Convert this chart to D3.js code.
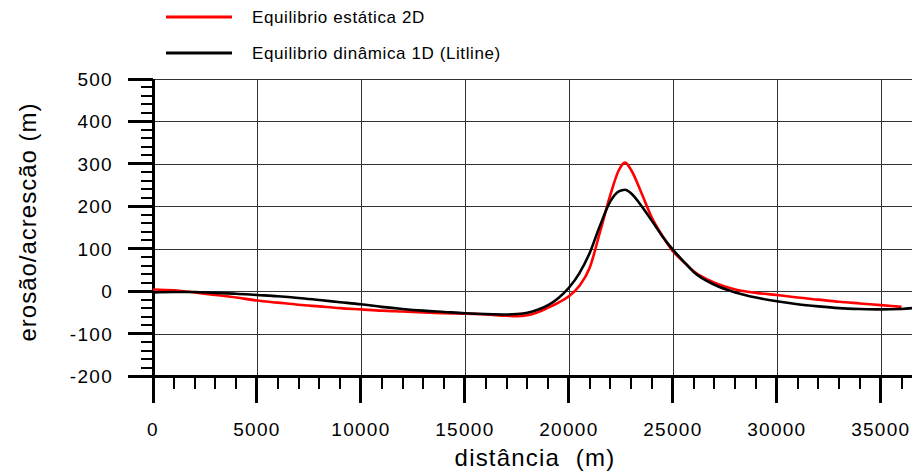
<!DOCTYPE html>
<html><head><meta charset="utf-8">
<script src="https://cdn.jsdelivr.net/npm/d3@7"></script>
<style>
html,body{margin:0;padding:0;background:#fff;}
svg{display:block;}
text{font-family:"Liberation Sans",Arial,sans-serif;fill:#000;white-space:pre;}
</style></head>
<body>
<svg id="chart" width="917" height="475"></svg>
<script>
// ---- data ----
const redDist = [0,1000,2000,3000,4000,5000,6000,7000,8000,9000,10000,11000,12000,13000,14000,15000,16000,17000,17500,18000,18500,19000,19500,20000,20500,21000,21500,22000,22400,22700,23000,23500,24000,24500,25000,25500,26000,27000,28000,29000,30000,31000,32000,33000,34000,35000,36000];
const redVal  = [4,2,-3,-9,-15,-22,-27,-32,-36,-40,-43,-46,-48,-50,-52,-53,-55,-58,-59,-57,-50,-39,-27,-12,12,55,140,228,285,303,285,230,172,130,94,70,47,20,4,-4,-9,-15,-20,-25,-29,-33,-37];
const blackDist = [0,1000,2000,3000,4000,5000,6000,7000,8000,9000,10000,11000,12000,13000,14000,15000,16000,17000,17500,18000,18500,19000,19500,20000,20500,21000,21500,22000,22400,22700,23000,23500,24000,24500,25000,25500,26000,27000,28000,29000,30000,31000,32000,33000,34000,35000,36000,36500];
const blackVal  = [-3,-2,-2,-4,-6,-9,-12,-16,-21,-26,-31,-37,-42,-46,-49,-52,-54,-55,-54,-51,-44,-33,-16,8,42,90,155,212,235,239,230,200,165,129,98,71,45,15,-3,-15,-24,-31,-36,-40,-42,-43,-42,-40];
const seriesNames = ["Equilibrio estática 2D","Equilibrio dinâmica 1D (Litline)"];
const seriesColors = ["#ff0000","#000000"];
const xTicks = [0,5000,10000,15000,20000,25000,30000,35000];
const yTicks = [-200,-100,0,100,200,300,400,500];
const xLabel = "distância  (m)";
const yLabel = "erosão/acrescão (m)";

// ---- layout ----
const svg = d3.select("#chart");
const x = d3.scaleLinear().domain([0,36500]).range([153,912]);
const y = d3.scaleLinear().domain([-200,500]).range([376,79]);

// grid
const grid = svg.append("g").attr("stroke","#333").attr("stroke-width",1).attr("shape-rendering","crispEdges");
grid.selectAll(".h").data(yTicks.filter(v=>v>-200)).enter().append("line")
  .attr("x1",x(0)).attr("x2",x(36500)).attr("y1",d=>Math.round(y(d))+0.5).attr("y2",d=>Math.round(y(d))+0.5);
grid.selectAll(".v").data(xTicks.filter(v=>v>0)).enter().append("line")
  .attr("y1",y(500)).attr("y2",y(-200)).attr("x1",d=>Math.round(x(d))+0.5).attr("x2",d=>Math.round(x(d))+0.5);

// minor ticks
const xMinor = d3.range(0,36501,1000).filter(v=>v%5000!==0);
const yMinor = d3.range(-200,501,20).filter(v=>v%100!==0);
const ax = svg.append("g").attr("stroke","#000").attr("shape-rendering","crispEdges");
ax.selectAll(".xm").data(xMinor).enter().append("line")
  .attr("x1",d=>x(d)).attr("x2",d=>x(d)).attr("y1",y(-200)).attr("y2",y(-200)+13).attr("stroke-width",2);
ax.selectAll(".ym").data(yMinor).enter().append("line")
  .attr("y1",d=>y(d)).attr("y2",d=>y(d)).attr("x1",x(0)-12).attr("x2",x(0)).attr("stroke-width",2);
// major ticks
ax.selectAll(".xM").data(xTicks).enter().append("line")
  .attr("x1",d=>x(d)).attr("x2",d=>x(d)).attr("y1",y(-200)).attr("y2",y(-200)+27).attr("stroke-width",3);
ax.selectAll(".yM").data(yTicks).enter().append("line")
  .attr("y1",d=>y(d)).attr("y2",d=>y(d)).attr("x1",x(0)-25).attr("x2",x(0)).attr("stroke-width",3);
// axis lines
ax.append("line").attr("x1",x(0)).attr("x2",x(0)).attr("y1",y(500)).attr("y2",y(-200)).attr("stroke-width",3);
ax.append("line").attr("x1",x(0)).attr("x2",x(36500)).attr("y1",y(-200)).attr("y2",y(-200)).attr("stroke-width",3);

// tick labels
svg.append("g").selectAll("text").data(xTicks).enter().append("text")
  .attr("x",d=>x(d)).attr("y",436).attr("text-anchor","middle")
  .attr("font-size",19).attr("letter-spacing",1.3).text(d=>d);
svg.append("g").selectAll("text").data(yTicks).enter().append("text")
  .attr("x",113).attr("y",d=>y(d)+7).attr("text-anchor","end")
  .attr("font-size",19).attr("letter-spacing",1.3).text(d=>d);

// axis labels
svg.append("text").attr("x",535).attr("y",466).attr("text-anchor","middle")
  .attr("font-size",24).attr("letter-spacing",1.2).text(xLabel);
svg.append("text").attr("transform","translate(36,222) rotate(-90)").attr("text-anchor","middle")
  .attr("font-size",24).attr("letter-spacing",1.0).text(yLabel);

// lines
const line = d3.line().x(d=>x(d[0])).y(d=>y(d[1])).curve(d3.curveMonotoneX);
const redData = redDist.map((d,i)=>[d,redVal[i]]);
const blackData = blackDist.map((d,i)=>[d,blackVal[i]]);
svg.append("path").datum(redData).attr("d",line).attr("fill","none").attr("stroke",seriesColors[0]).attr("stroke-width",2.6);
svg.append("path").datum(blackData).attr("d",line).attr("fill","none").attr("stroke",seriesColors[1]).attr("stroke-width",2.6);

// legend
const lg = svg.append("g");
[17,53].forEach((yy,i)=>{
  lg.append("line").attr("x1",166).attr("x2",232).attr("y1",yy).attr("y2",yy).attr("stroke",seriesColors[i]).attr("stroke-width",3);
  lg.append("text").attr("x",252).attr("y",yy+6).attr("font-size",17).attr("letter-spacing",0.6).text(seriesNames[i]);
});
</script>
</body></html>
